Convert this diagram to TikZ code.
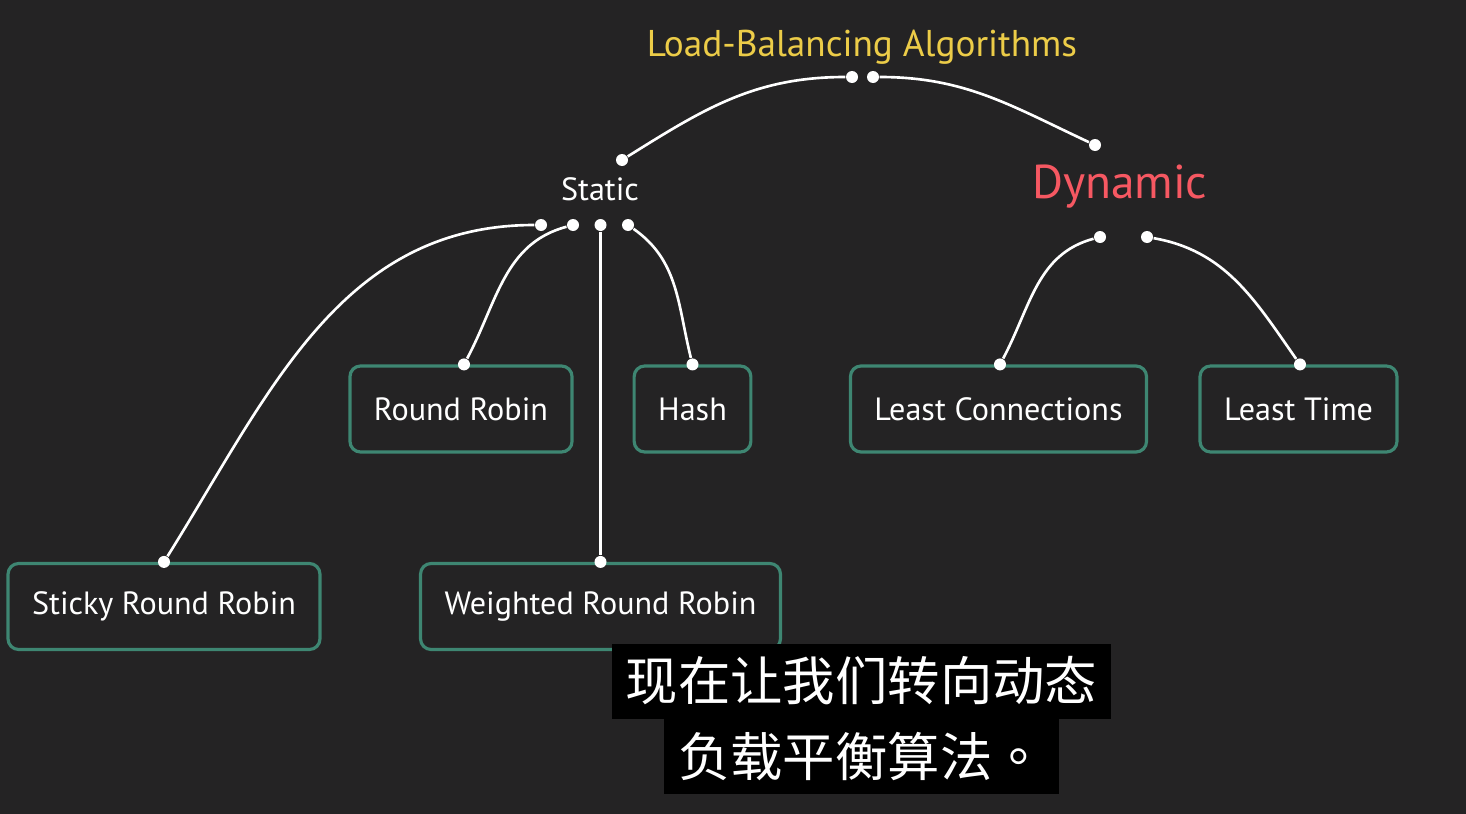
\documentclass[tikz,border=0pt]{standalone}
\usepackage{fontspec}
\setmainfont{PT Sans}
\newfontfamily\cjk{Noto Sans CJK SC}
\newfontfamily\cjktc{Noto Sans CJK TC}

\definecolor{bgfill}{RGB}{36,35,36}
\definecolor{boxline}{RGB}{62,134,114}
\definecolor{titlecol}{RGB}{236,204,72}
\definecolor{dyncol}{RGB}{246,88,98}

\begin{document}
\begin{tikzpicture}[
    every node/.style = {align=center, text=white, font=\fontsize{9.15}{11}\selectfont},
    algbox/.style     = {draw=boxline, line width=0.9pt, rounded corners=3pt,
                         fill=bgfill, minimum height=0.86cm,
                         inner xsep=0.24cm},
    dotn/.style       = {circle, fill=white, inner sep=0pt,
                         minimum size=0.12cm},
    link/.style       = {draw=white, line width=0.75pt},
    subline/.style    = {fill=black, font=\cjk\fontsize{14.9}{16}\selectfont,
                         inner xsep=0.14cm, minimum height=0.75cm}]

    % Background
    \fill[bgfill] (0,0) rectangle (14.66,-8.14);
    \useasboundingbox (0,0) rectangle (14.66,-8.14);

    % Headings
    \node[text=titlecol, font=\fontsize{10.6}{13}\selectfont] (title) at (8.62,-0.47) {Load-Balancing Algorithms};
    \node (static) at (6.00,-1.89) {Static};
    \node[text=dyncol, font=\fontsize{13.5}{16}\selectfont] (dynamic) at (11.20,-1.87) {Dynamic};

    % Algorithm boxes
    \node[algbox] (rr)       at ( 4.61,-4.09) {Round Robin};
    \node[algbox] (hash)     at ( 6.925,-4.09) {Hash};
    \node[algbox] (leastcon) at ( 9.985,-4.09) {Least Connections};
    \node[algbox] (leasttm)  at (12.985,-4.09) {Least Time};
    \node[algbox] (sticky)   at ( 1.64,-6.065) {Sticky Round Robin};
    \node[algbox] (weighted) at ( 6.005,-6.065) {Weighted Round Robin};

    % Dots
    \node[dotn] (titleL) at ( 8.52,-0.77) {};
    \node[dotn] (titleR) at ( 8.73,-0.77) {};
    \node[dotn] (statT)  at ( 6.22,-1.60) {};
    \node[dotn] (dynT)   at (10.95,-1.45) {};
    \node[dotn] (statA)  at ( 5.41,-2.25) {};
    \node[dotn] (statB)  at ( 5.73,-2.25) {};
    \node[dotn] (statC)  at ( 6.005,-2.25) {};
    \node[dotn] (statD)  at ( 6.28,-2.25) {};
    \node[dotn] (dynA)   at (11.00,-2.37) {};
    \node[dotn] (dynB)   at (11.47,-2.37) {};
    \node[dotn] (rrT)       at ([xshift=0.03cm]rr.north) {};
    \node[dotn] (hashT)     at (hash.north) {};
    \node[dotn] (leastconT) at ([xshift=0.015cm]leastcon.north) {};
    \node[dotn] (leasttmT)  at ([xshift=0.015cm]leasttm.north) {};
    \node[dotn] (stickyT)   at (sticky.north) {};
    \node[dotn] (weightedT) at (weighted.north) {};

    % Links
    \draw[link] (titleL) to[out=180, in=32] (statT);
    \draw[link] (titleR) to[out=0, in=155] (dynT);

    \draw[link] (statA) to[out=180, in=58] (stickyT);
    \draw[link] (statB) to[out=195, in=62] (rrT);
    \draw[link] (statC) -- (weightedT);
    \draw[link] (statD) to[out=-35, in=104] (hashT);

    \draw[link] (dynA) to[out=195, in=62] (leastconT);
    \draw[link] (dynB) to[out=-10, in=125] (leasttmT);

    % Subtitle
    \node[subline] (sub1) at (8.615,-6.81) {现在让我们转向动态};
    \node[subline] (sub2) at (8.615,-7.565) {负载平衡算法{\cjktc 。}};
\end{tikzpicture}
\end{document}
